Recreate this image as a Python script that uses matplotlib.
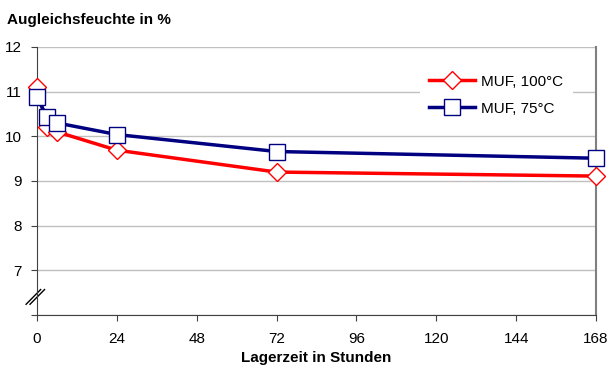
import matplotlib
matplotlib.use('Agg')
from matplotlib import pyplot as plt

# Lagerzeit in Stunden
zeit = [0, 3, 6, 24, 72, 168]
muf_100 = [11.1, 10.22, 10.1, 9.69, 9.2, 9.11]
muf_75 = [10.88, 10.43, 10.3, 10.04, 9.66, 9.51]
x_ticks = [0, 24, 48, 72, 96, 120, 144, 168]
y_ticks = [7, 8, 9, 10, 11, 12]

plt.rcParams['font.family'] = ['Liberation Sans', 'DejaVu Sans']
fig = plt.figure(figsize=(6.11, 3.67), dpi=100)
ax = fig.add_axes([37/611, 52/367, 559/611, 268/367])

ax.plot(zeit, muf_100, color='#FF0000', lw=2.5, marker='D', ms=9,
        mfc='white', mec='#FF0000', mew=1.0, label='MUF, 100°C', clip_on=False, zorder=3)
ax.plot(zeit, muf_75, color='#000080', lw=2.5, marker='s', ms=11.5,
        mfc='white', mec='#000080', mew=1.0, label='MUF, 75°C', clip_on=False, zorder=4)

ax.set_xlim(0, 168)
ax.set_ylim(6, 12)
ax.set_xticks(x_ticks)
ax.set_yticks([6] + y_ticks)
ax.set_yticklabels([''] + [str(v) for v in y_ticks])
ax.grid(axis='y', color='#C0C0C0', lw=1)
ax.set_axisbelow(True)

for s in ['left', 'bottom']:
    ax.spines[s].set_color('#404040')
ax.spines['top'].set_visible(False)
ax.spines['right'].set_color('#808080')
ax.spines['right'].set_linewidth(1.5)
ax.tick_params(axis='both', direction='out', length=4, color='#404040',
               labelsize=11, pad=8)
ax.tick_params(axis='y', pad=7)

# Achsenbruch
for off in (-0.0035, 0.0035):
    ax.plot([-0.016 + off, 0.010 + off], [0.04, 0.095], transform=ax.transAxes,
            color='black', lw=1, clip_on=False)

ax.set_xlabel('Lagerzeit in Stunden', fontsize=11, fontweight='bold', labelpad=4)
fig.text(7/611, 1 - 20/367, 'Augleichsfeuchte in %', fontsize=11, fontweight='bold', va='center')

leg = ax.legend(loc='upper right', bbox_to_anchor=(0.972, 0.96), frameon=True,
                fontsize=11, handlelength=3, handletextpad=0.4, borderpad=0.6,
                labelspacing=0.85)
leg.get_frame().set_edgecolor('none')
leg.get_frame().set_facecolor('white')
leg.get_frame().set_alpha(1)

fig.savefig('out.png', dpi=100)
